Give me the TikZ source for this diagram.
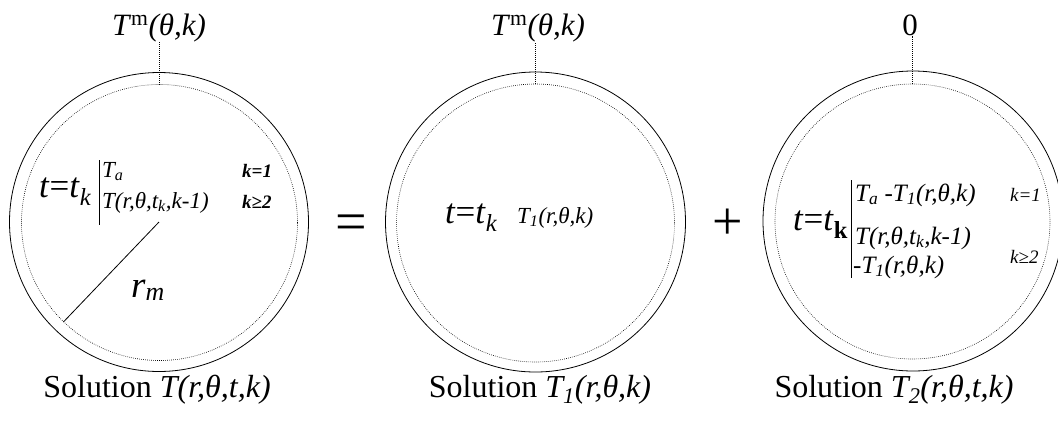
\documentclass[tikz,border=0pt]{standalone}
\usepackage{fontspec}
\setmainfont{Liberation Serif}
\newcommand\fsz[1]{\fontsize{#1}{#1}\selectfont}
\tikzset{
  outer/.style={draw, circle, inner sep=0pt, line width=0.8pt},
  innerc/.style={draw, circle, inner sep=0pt, line width=0.6pt, dash pattern=on 0.7pt off 1.3pt},
  lead/.style={line width=0.6pt, dash pattern=on 0.7pt off 1.3pt},
  lbl/.style={inner sep=0pt, anchor=base},
  txt/.style={inner sep=0pt, anchor=base west},
  bar/.style={line width=0.9pt}
}
\begin{document}
\begin{tikzpicture}[x=1pt,y=-1pt]
\useasboundingbox (0,0) rectangle (1058,424);
\clip (0,0) rectangle (1058,424);

% ---------- circle 1 ----------
\node[outer, minimum size=299pt] (c1) at (159,222) {};
\node[innerc, minimum size=276pt] (c1i) at (159.5,222.5) {};
\node[lbl, font=\fsz{31}] (t1) at (159,35) {\textit{T}\textsuperscript{m}\textit{(θ,k)}};
\draw[lead] (c1i.north) -- (c1i.north |- t1.south);
\node[txt, font=\fsz{35}] (e1) at (39,197) {\textit{t}=\textit{t}\textsubscript{\textit{k}}};
\draw[bar] (99,160) -- (99,225);
\node[txt, font=\fsz{23}\itshape] (a1) at (102,177) {T\textsubscript{a}};
\node[txt, font=\fsz{23}\itshape] (b1) at (102,208) {T(r,θ,t\textsubscript{k},k-1)};
\node[txt, font=\fsz{19}\bfseries\itshape] (k11) at (242,177) {k=1};
\node[txt, font=\fsz{19}\bfseries\itshape] (k12) at (242,208) {k≥2};
\draw[line width=0.8pt] (c1.center) -- (c1i.226);
\node[txt, font=\fsz{37}\itshape] (rm) at (131,297) {r\textsubscript{m}};
\node[lbl, font=\fsz{32}] (s1) at (157,397) {Solution \textit{T(r,θ,t,k)}};

% ---------- equals ----------
\node[lbl, font=\fsz{56}] (eq) at (351.5,240) {=};

% ---------- circle 2 ----------
\node[outer, minimum size=300pt] (c2) at (535.5,222) {};
\node[innerc, minimum size=278pt] (c2i) at (535.5,223) {};
\node[lbl, font=\fsz{31}] (t2) at (538,35) {\textit{T}\textsuperscript{m}\textit{(θ,k)}};
\draw[lead] (c2i.north) -- (c2i.north |- t2.south);
\node[txt, font=\fsz{35}] (e2) at (445,223) {\textit{t}=\textit{t}\textsubscript{\textit{k}}};
\node[txt, font=\fsz{23}\itshape] (v2) at (517,223) {T\textsubscript{1}(r,θ,k)};
\node[lbl, font=\fsz{32}] (s2) at (540,397) {Solution \textit{T\textsubscript{1}(r,θ,k)}};

% ---------- plus ----------
\node[lbl, font=\fsz{54}] (pl) at (727.5,239) {+};

% ---------- circle 3 ----------
\node[outer, minimum size=300pt] (c3) at (913,221) {};
\node[innerc, minimum size=275pt] (c3i) at (912.5,221.5) {};
\node[lbl, font=\fsz{31}] (t3) at (910,35) {0};
\draw[lead] (c3i.north) -- (c3i.north |- t3.south);
\node[txt, font=\fsz{35}] (e3) at (793,230) {\textit{t}=\textit{t}\textsubscript{\textbf{k}}};
\draw[bar] (851,180) -- (851,278);
\node[txt, font=\fsz{25}\itshape] (a3) at (855,201) {T\textsubscript{a} -T\textsubscript{1}(r,θ,k)};
\node[txt, font=\fsz{25}\itshape] (b3) at (855,244) {T(r,θ,t\textsubscript{k},k-1)};
\node[txt, font=\fsz{25}\itshape] (c3t) at (853,273) {-T\textsubscript{1}(r,θ,k)};
\node[txt, font=\fsz{19}\itshape] (k31) at (1010,201) {k=1};
\node[txt, font=\fsz{19}\itshape] (k32) at (1010,263) {k≥2};
\node[lbl, font=\fsz{32}] (s3) at (894,397) {Solution \textit{T\textsubscript{2}(r,θ,t,k)}};
\end{tikzpicture}
\end{document}
